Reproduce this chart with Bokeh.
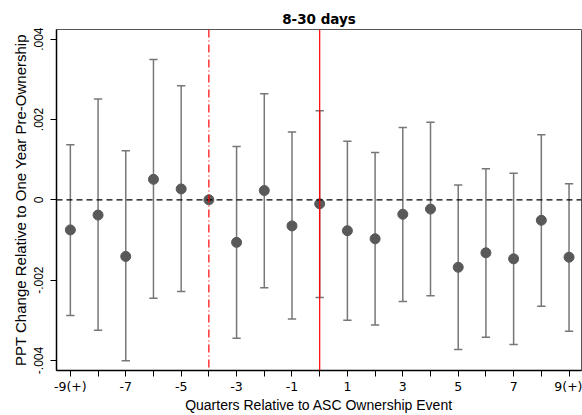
import numpy as np
from bokeh.plotting import figure
from bokeh.models import FixedTicker, Span, Range1d
from bokeh.embed import file_html
from bokeh.resources import INLINE

quarters = list(range(-9, 10))
estimate = [-0.00075, -0.00038, -0.00141, 0.00051, 0.00027, 0.0, -0.00106, 0.00023, -0.00065, -0.00010,
            -0.00077, -0.00097, -0.00036, -0.00023, -0.00168, -0.00132, -0.00147, -0.00051, -0.00143]
ci_upper = [0.00137, 0.00251, 0.00122, 0.00349, 0.00284, None, 0.00133, 0.00264, 0.00169, 0.00222,
            0.00146, 0.00118, 0.00180, 0.00193, 0.00037, 0.00077, 0.00066, 0.00162, 0.00040]
ci_lower = [-0.00288, -0.00325, -0.00401, -0.00245, -0.00228, None, -0.00345, -0.00219, -0.00297, -0.00243,
            -0.00300, -0.00312, -0.00253, -0.00239, -0.00373, -0.00342, -0.00360, -0.00265, -0.00327]
x_tick_labels = {-9: "-9(+)", -7: "-7", -5: "-5", -3: "-3", -1: "-1", 1: "1", 3: "3", 5: "5", 7: "7", 9: "9(+)"}
y_ticks = [-0.004, -0.002, 0.0, 0.002, 0.004]
y_tick_labels = {-0.004: "-.004", -0.002: "-.002", 0.0: "0", 0.002: ".002", 0.004: ".004"}

FONT = "Liberation Sans"

p = figure(width=582, height=415, output_backend="svg", toolbar_location=None,
           x_range=Range1d(-9.5, 9.45), y_range=Range1d(-0.00425, 0.00424),
           min_border_left=56, min_border_right=1, min_border_top=29, min_border_bottom=44)
p.title.text = "8-30 days"
p.title.align = "center"
p.title.text_font = "DejaVu Sans"
p.title.text_font_size = "13.5px"
p.title.text_font_style = "bold"
p.title.text_color = "black"
p.title.offset = 0
p.title.standoff = 5

p.grid.visible = False
p.outline_line_color = "#555555"
p.outline_line_width = 1

# zero line
p.add_layout(Span(location=0, dimension="width", line_color="black", line_dash="6 4", line_width=1.2))
# red lines
p.add_layout(Span(location=-4, dimension="height", line_color="red", line_dash="8 3 1 3", line_width=1.2))
p.add_layout(Span(location=0, dimension="height", line_color="red", line_width=1.2))

xs = [q for q, u in zip(quarters, ci_upper) if u is not None]
ups = [u for u in ci_upper if u is not None]
los = [l for l in ci_lower if l is not None]
cap = 0.15
p.segment(x0=xs, y0=los, x1=xs, y1=ups, line_color="#777777", line_width=1.5)
p.segment(x0=[x - cap for x in xs], y0=ups, x1=[x + cap for x in xs], y1=ups, line_color="#777777", line_width=1.5)
p.segment(x0=[x - cap for x in xs], y0=los, x1=[x + cap for x in xs], y1=los, line_color="#777777", line_width=1.5)
p.scatter(x=quarters, y=estimate, size=10, fill_color="#595959", line_color="#595959")

xa = p.xaxis[0]
xa.ticker = FixedTicker(ticks=quarters)
xa.major_label_overrides = {q: x_tick_labels.get(q, "") for q in quarters}
xa.axis_label = "Quarters Relative to ASC Ownership Event"
xa.major_label_text_font = "DejaVu Sans"
xa.major_label_text_font_size = "12.5px"
xa.major_label_standoff = 2
xa.axis_label_text_font_size = "14px"
xa.axis_label_standoff = 0
ya = p.yaxis[0]
ya.ticker = FixedTicker(ticks=y_ticks)
ya.major_label_overrides = y_tick_labels
ya.major_label_orientation = "vertical"
ya.axis_label = "PPT Change Relative to One Year Pre-Ownership"
ya.major_label_text_font = "Liberation Sans Narrow, Liberation Sans"
ya.major_label_text_font_size = "12px"
ya.major_label_standoff = 7
ya.axis_label_text_font_size = "15px"
ya.axis_label_standoff = 3
for ax in (xa, ya):
    ax.axis_label_text_font = FONT
    ax.axis_label_text_font_style = "normal"
    ax.axis_label_text_color = "black"
    ax.major_label_text_color = "black"
    ax.axis_line_color = "black"
    ax.axis_line_width = 1.5
    ax.major_tick_line_color = "black"
    ax.major_tick_out = 6
    ax.major_tick_in = 0
    ax.minor_tick_line_color = None

open("out.html", "w").write(file_html(p, INLINE))
